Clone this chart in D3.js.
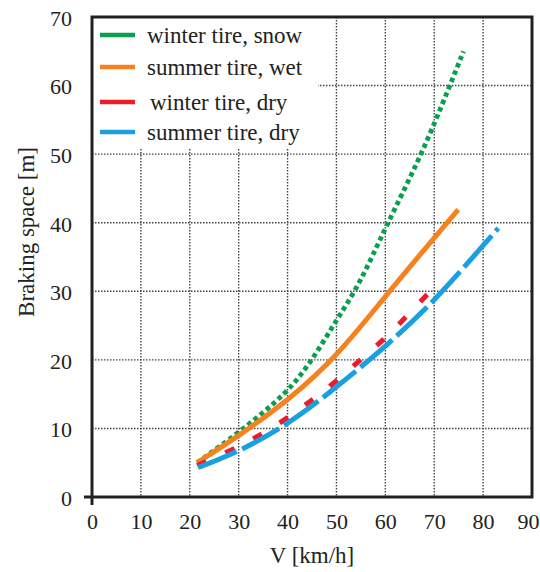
<!DOCTYPE html>
<html>
<head>
<meta charset="utf-8">
<script src="https://cdn.jsdelivr.net/npm/d3@7"></script>
<style>
    body { margin: 0; background: #fff; }
    text { font-family: "Liberation Serif", "DejaVu Serif", serif; fill: #222; }
</style>
</head>
<body>
<svg id="chart" width="540" height="572"></svg>
<script>
// values: [speed km/h, braking space m]
const snowWinter = [[21.5, 5.0], [30, 9.35], [40, 15.2], [45, 19.9], [50, 25.8], [54.8, 31.1],
    [60, 39.3], [67.5, 50], [73.2, 60], [76, 65]];
const wetSummer = [[21.5, 5.0], [30, 8.9], [40, 14.0], [50, 20.4], [60, 29.3], [70, 37.8], [74.9, 41.9]];
const dryWinter = [[21.5, 4.6], [27.9, 6.6], [33.7, 8.7], [39.1, 11.1], [44.4, 13.8], [49.5, 16.6],
    [54.4, 19.7], [59.5, 22.8], [64, 26.1], [68.5, 29.5], [69.6, 30.3]];
const drySummer = [[21.7, 4.3], [30, 6.6], [40, 10.5], [50, 16.0], [60, 21.9], [70, 28.5],
    [80, 36.7], [83.1, 39.2]];

const xTicks = [0, 10, 20, 30, 40, 50, 60, 70, 80, 90];
const yTicks = [0, 10, 20, 30, 40, 50, 60, 70];

const seriesNames = ["winter tire, snow", "summer tire, wet", "winter tire, dry", "summer tire, dry"];
const seriesData = [snowWinter, wetSummer, dryWinter, drySummer];

// styling per series
const colors = ["#0a9f4f", "#f5821f", "#ec1c2a", "#1a9fe0"];
const dashes = ["4.5,3.4", null, "10,21", "42,6"];

const svg = d3.select("#chart");
const pL = 92, pR = 532, pT = 17, pB = 497;

const x = d3.scaleLinear().domain([0, 90]).range([pL, pR]);
const y = d3.scaleLinear().domain([0, 70]).range([pB, pT]);

svg.append("rect").attr("width", 540).attr("height", 572).attr("fill", "#fff");

// dotted grid
const grid = svg.append("g");
grid.selectAll(".vg").data(xTicks.slice(1, -1)).enter().append("line")
    .attr("x1", d => x(d)).attr("x2", d => x(d))
    .attr("y1", pT).attr("y2", pB)
    .attr("stroke", "#444").attr("stroke-width", 1.4).attr("stroke-dasharray", "1.5,1.5");
grid.selectAll(".hg").data(yTicks.slice(1, -1)).enter().append("line")
    .attr("x1", pL).attr("x2", pR)
    .attr("y1", d => y(d)).attr("y2", d => y(d))
    .attr("stroke", "#444").attr("stroke-width", 1.4).attr("stroke-dasharray", "1.5,1.5");

// curves - basis smooths out reading noise
const line = d3.line().x(d => x(d[0])).y(d => y(d[1])).curve(d3.curveBasis);
svg.append("g").selectAll("path").data(seriesData).enter().append("path")
    .attr("d", line)
    .attr("fill", "none")
    .attr("stroke", (d, i) => colors[i])
    .attr("stroke-width", (d, i) => i === 0 ? 4.8 : 5)
    .attr("stroke-dasharray", (d, i) => dashes[i]);

// legend over the grid
const legend = svg.append("g");
legend.append("rect").attr("x", pL).attr("y", pT).attr("width", 226).attr("height", 131).attr("fill", "#fff");
const rowY = [35, 67, 102, 132];
const textX = [147, 147, 150, 147];
seriesNames.forEach(function (name, i) {
    legend.append("line")
        .attr("x1", 100).attr("x2", 135)
        .attr("y1", rowY[i]).attr("y2", rowY[i])
        .attr("stroke", colors[i]).attr("stroke-width", 4.5);
    legend.append("text")
        .attr("x", textX[i]).attr("y", rowY[i] + 8)
        .attr("font-size", 23)
        .text(name);
});

// frame
svg.append("rect")
    .attr("x", pL).attr("y", pT)
    .attr("width", pR - pL).attr("height", pB - pT)
    .attr("fill", "none").attr("stroke", "#222").attr("stroke-width", 3);
svg.append("line").attr("x1", pL - 8).attr("x2", pL).attr("y1", pB).attr("y2", pB)
    .attr("stroke", "#222").attr("stroke-width", 3);
svg.append("line").attr("x1", pL).attr("x2", pL).attr("y1", pB).attr("y2", pB + 8)
    .attr("stroke", "#222").attr("stroke-width", 3);

// axes (labels only)
const xAxis = svg.append("g").attr("transform", "translate(0," + (pB + 12) + ")")
    .call(d3.axisBottom(x).tickValues(xTicks).tickSize(0).tickPadding(0));
xAxis.select(".domain").remove();
xAxis.selectAll("text").attr("font-size", 22).attr("fill", "#222").attr("dy", "0.9em");
// last label sits against the page edge
xAxis.selectAll("text").filter(d => d === 90).attr("text-anchor", "end").attr("x", 539 - x(90));

const yAxis = svg.append("g").attr("transform", "translate(" + (pL - 20) + ",0)")
    .call(d3.axisLeft(y).tickValues(yTicks).tickSize(0).tickPadding(0));
yAxis.select(".domain").remove();
yAxis.selectAll("text").attr("font-size", 22).attr("fill", "#222").attr("dy", "0.38em");
svg.selectAll(".tick text").style("font-family", '"Liberation Serif", serif');

// axis titles
svg.append("text")
    .attr("x", x(45)).attr("y", 563)
    .attr("text-anchor", "middle").attr("font-size", 23)
    .text("V [km/h]");
svg.append("text")
    .attr("transform", "translate(34,232) rotate(-90)")
    .attr("text-anchor", "middle").attr("font-size", 23)
    .text("Braking space [m]");
</script>
</body>
</html>
